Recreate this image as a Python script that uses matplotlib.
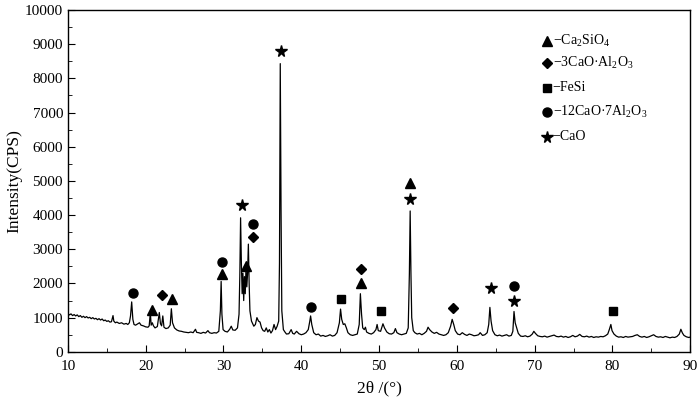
import matplotlib
matplotlib.use('Agg')
import matplotlib.pyplot as plt
from matplotlib.ticker import MultipleLocator

plt.rcParams['font.family'] = ['Liberation Serif', 'DejaVu Serif']
plt.rcParams['mathtext.fontset'] = 'custom'
plt.rcParams['mathtext.rm'] = 'Liberation Serif'
plt.rcParams['mathtext.it'] = 'Liberation Serif'

# XRD pattern (2theta in degrees, intensity in CPS)
two_theta = [
    10.0, 10.2, 10.4, 10.6, 10.8, 11.0, 11.2, 11.4, 11.6, 11.8, 12.0, 12.2, 12.4, 12.6, 12.8,
    13.0, 13.2, 13.4, 13.6, 13.8, 14.0, 14.2, 14.4, 14.6, 14.8, 15.0, 15.2, 15.4, 15.6, 15.8,
    15.9, 16.1, 16.3, 16.6, 16.9, 17.2, 17.5, 17.7, 17.9, 18.05, 18.2, 18.35, 18.5, 18.7, 19.0,
    19.2, 19.4, 19.7, 20.0, 20.3, 20.45, 20.6, 20.7, 20.85, 21.0, 21.2, 21.5, 21.75, 21.9, 22.05,
    22.2, 22.35, 22.6, 22.9, 23.15, 23.3, 23.45, 23.7, 24.0, 24.3, 24.6, 24.9, 25.2, 25.5, 25.8,
    26.1, 26.4, 26.55, 26.8, 27.1, 27.4, 27.7, 28.0, 28.2, 28.5, 28.8, 29.1, 29.4, 29.6, 29.7,
    29.8, 29.95, 30.2, 30.5, 30.8, 31.0, 31.2, 31.5, 31.8, 32.0, 32.1, 32.2, 32.3, 32.4, 32.5,
    32.6, 32.7, 32.8, 32.9, 33.0, 33.1, 33.2, 33.3, 33.4, 33.6, 33.9, 34.1, 34.3, 34.5, 34.7,
    34.9, 35.1, 35.3, 35.5, 35.7, 35.9, 36.1, 36.3, 36.5, 36.7, 36.9, 37.1, 37.2, 37.3, 37.4,
    37.5, 37.7, 37.9, 38.1, 38.4, 38.7, 38.9, 39.1, 39.4, 39.7, 40.0, 40.3, 40.6, 40.9, 41.1,
    41.2, 41.35, 41.6, 41.9, 42.2, 42.5, 42.8, 43.1, 43.4, 43.7, 44.0, 44.3, 44.6, 44.9, 45.05,
    45.2, 45.4, 45.6, 45.8, 46.0, 46.3, 46.6, 46.9, 47.2, 47.45, 47.6, 47.75, 47.9, 48.1, 48.25,
    48.4, 48.7, 49.0, 49.3, 49.6, 49.75, 49.9, 50.2, 50.5, 50.7, 51.0, 51.3, 51.6, 51.9, 52.1,
    52.3, 52.6, 52.9, 53.2, 53.5, 53.75, 53.9, 54.0, 54.1, 54.2, 54.4, 54.6, 54.9, 55.2, 55.5,
    55.8, 56.1, 56.3, 56.5, 56.8, 57.1, 57.4, 57.7, 58.0, 58.3, 58.6, 58.9, 59.2, 59.4, 59.6,
    59.8, 60.1, 60.4, 60.7, 61.0, 61.3, 61.6, 61.9, 62.2, 62.5, 62.8, 63.0, 63.3, 63.6, 63.9,
    64.1, 64.25, 64.4, 64.6, 64.9, 65.2, 65.5, 65.8, 66.1, 66.4, 66.7, 67.0, 67.2, 67.35, 67.5,
    67.7, 67.9, 68.2, 68.5, 68.8, 69.1, 69.4, 69.7, 69.9, 70.1, 70.4, 70.7, 71.0, 71.3, 71.6,
    71.9, 72.2, 72.5, 72.8, 73.1, 73.4, 73.7, 74.0, 74.3, 74.6, 74.9, 75.2, 75.5, 75.8, 76.1,
    76.4, 76.7, 77.0, 77.3, 77.6, 77.9, 78.2, 78.5, 78.8, 79.1, 79.4, 79.6, 79.8, 79.95, 80.2,
    80.5, 80.8, 81.1, 81.4, 81.7, 82.0, 82.3, 82.6, 82.9, 83.2, 83.5, 83.8, 84.1, 84.4, 84.7,
    85.0, 85.3, 85.6, 85.9, 86.2, 86.5, 86.8, 87.1, 87.4, 87.7, 88.0, 88.3, 88.6, 88.8, 89.0,
    89.2, 89.5, 89.8, 90.0,
]
intensity = [
    1120, 1080, 1110, 1060, 1090, 1050, 1080, 1030, 1060, 1010, 1040, 1000, 1030, 990, 1010,
    970, 1000, 960, 980, 940, 970, 930, 960, 910, 930, 890, 910, 870, 880, 1060,
    900, 850, 870, 830, 850, 810, 830, 800, 850, 1050, 1460, 950, 800, 780, 820,
    850, 780, 760, 730, 720, 760, 1150, 780, 850, 760, 700, 740, 1150, 820, 760,
    1050, 720, 680, 700, 780, 1260, 850, 700, 640, 610, 600, 580, 570, 560, 580,
    560, 660, 570, 560, 540, 570, 550, 620, 560, 540, 560, 550, 600, 1200, 2060,
    1100, 650, 600, 580, 660, 750, 640, 630, 700, 1100, 2200, 3920, 2600, 1700, 2300,
    1500, 2200, 1700, 2500, 1900, 2300, 3150, 2000, 1200, 900, 750, 800, 1000, 900, 870,
    700, 620, 600, 700, 580, 650, 550, 620, 800, 650, 750, 900, 2600, 8430, 4200,
    1200, 650, 580, 520, 530, 650, 540, 520, 600, 530, 500, 520, 560, 650, 900,
    1050, 800, 560, 500, 520, 460, 480, 450, 470, 500, 460, 480, 560, 850, 1250,
    950, 800, 820, 700, 560, 500, 480, 500, 520, 800, 1700, 1100, 700, 650, 720,
    580, 540, 520, 560, 650, 800, 620, 600, 820, 700, 580, 530, 520, 560, 680,
    560, 520, 500, 520, 540, 700, 2300, 4120, 2300, 1000, 620, 560, 520, 540, 500,
    540, 600, 720, 650, 580, 540, 570, 520, 500, 480, 500, 560, 750, 950, 800,
    620, 520, 500, 560, 510, 480, 520, 500, 470, 480, 500, 560, 480, 500, 560,
    800, 1300, 900, 620, 500, 470, 490, 460, 480, 500, 460, 480, 600, 1180, 850,
    700, 540, 460, 450, 470, 440, 460, 520, 600, 540, 470, 450, 440, 460, 430,
    450, 470, 490, 450, 440, 460, 430, 450, 420, 440, 480, 440, 460, 510, 450,
    440, 460, 430, 450, 420, 440, 430, 450, 440, 470, 520, 650, 800, 620, 520,
    460, 430, 440, 420, 450, 430, 440, 450, 480, 500, 450, 430, 450, 420, 440,
    470, 500, 450, 430, 440, 420, 450, 430, 410, 430, 420, 450, 520, 660, 550,
    480, 440, 420, 430,
]

# phase markers above the peaks
tri_x = [20.8, 23.4, 29.8, 32.9, 47.7, 54.0]
tri_y = [1230, 1550, 2280, 2510, 2020, 4940]
dia_x = [22.1, 33.8, 47.7, 59.5]
dia_y = [1665, 3360, 2430, 1285]
sq_x = [45.1, 50.3, 80.1]
sq_y = [1550, 1200, 1200]
circ_x = [18.4, 29.8, 33.8, 41.25, 67.4]
circ_y = [1725, 2630, 3740, 1315, 1930]
star_x = [32.4, 37.4, 54.0, 64.4, 67.4]
star_y = [4300, 8800, 4470, 1870, 1490]

legend_marks = ['^', 'D', 's', 'o', '*']
legend_labels = ['\u2212Ca$_2$SiO$_4$', '\u22123CaO\u00b7Al$_2$O$_3$', '\u2212FeSi',
                 '\u221212CaO\u00b77Al$_2$O$_3$', '\u2212CaO']
legend_y = [9090, 8440, 7720, 7020, 6290]

fig = plt.figure(figsize=(7, 3.98), dpi=100)
ax = fig.add_axes([0.097, 0.116, 0.889, 0.859])

ax.plot(two_theta, intensity, color='black', lw=0.9)

ms = 6.5
sizes = {'^': ms, 'D': ms - 1.5, 's': ms - 0.5, 'o': ms, '*': ms + 2}
ax.plot(tri_x, tri_y, '^', color='black', ms=sizes['^'], ls='none')
ax.plot(dia_x, dia_y, 'D', color='black', ms=sizes['D'], ls='none')
ax.plot(sq_x, sq_y, 's', color='black', ms=sizes['s'], ls='none')
ax.plot(circ_x, circ_y, 'o', color='black', ms=sizes['o'], ls='none')
ax.plot(star_x, star_y, '*', color='black', ms=sizes['*'], ls='none')

for mk, lab, ly in zip(legend_marks, legend_labels, legend_y):
    ax.plot([71.6], [ly], mk, color='black', ms=sizes[mk])
    ax.text(72.3, ly, lab, fontsize=10, va='center', ha='left')

ax.set_xlim(10, 90)
ax.set_ylim(0, 10000)
ax.xaxis.set_major_locator(MultipleLocator(10))
ax.xaxis.set_minor_locator(MultipleLocator(5))
ax.yaxis.set_major_locator(MultipleLocator(1000))
ax.yaxis.set_minor_locator(MultipleLocator(500))
ax.tick_params(which='both', direction='in', top=False, right=False, labelsize=11)
ax.tick_params(which='major', length=5)
ax.tick_params(which='minor', length=3)
ax.tick_params(axis='x', pad=6)
for sp in ax.spines.values():
    sp.set_linewidth(1.0)

ax.set_xlabel('2\u03b8 /(\u00b0)', fontsize=12.5, labelpad=5)
ax.set_ylabel('Intensity(CPS)', fontsize=12.5, labelpad=2)

fig.savefig('out.png', dpi=100)
